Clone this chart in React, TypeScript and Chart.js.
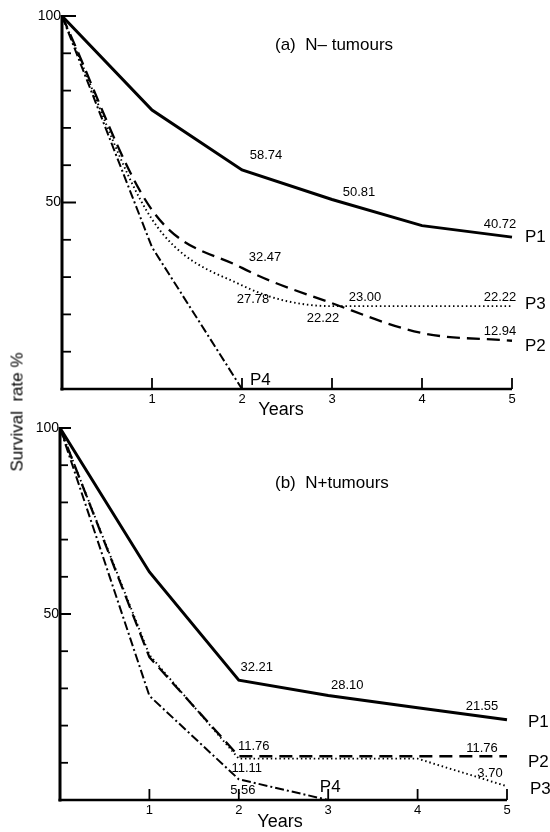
import React, { useEffect, useRef } from "react";
import { Chart, registerables } from "chart.js";

Chart.register(...registerables);

// ---------- data ----------
const YEARS = [0, 1, 2, 3, 4, 5];
const X_TICKS = [1, 2, 3, 4, 5];
const X_TICK_LABELS = ["1", "2", "3", "4", "5"];
const Y_MINOR_TICKS = [10, 20, 30, 40, 60, 70, 80, 90];
const Y_MAJOR_TICKS = [50, 100];
const Y_TICK_LABELS = ["50", "100"];
const SERIES_NAMES = ["P1", "P2", "P3", "P4"];

// (a) N- tumours
const A_P1 = [100, 74.8, 58.74, 50.81, 43.8, 40.72];
const A_P2 = [100, 48, 32.47, 23.0, 15.0, 12.94];
const A_P3 = [100, 45.5, 27.78, 22.22, 22.22, 22.22];
const A_P4 = [100, 38, 0];

// (b) N+ tumours
const B_P1 = [100, 61.3, 32.21, 28.1, 24.8, 21.55];
const B_P2 = [100, 38.4, 11.76, 11.76, 11.76, 11.76];
const B_P3 = [100, 39, 11.11, 11.11, 11.11, 3.7];
const B_P4 = [100, 28, 5.56, 0];

// ---------- styles ----------
const FONT = "'Liberation Sans', Arial, Helvetica, sans-serif";
const SERIES_STYLES = [
  { width: 3, dash: [] as number[] },
  { width: 2.3, dash: [13, 7] },
  { width: 1.9, dash: [1.5, 2.8] },
  { width: 2, dash: [9, 3, 2, 3] },
];

type ValueLabel = { s: number; i: number; dx: number; dy: number };
type NameLabel = { dx: number; dy: number; align: CanvasTextAlign };

interface PanelCfg {
  title: string;
  titleX: number;
  titleY: number;
  padding: { left: number; right: number; top: number; bottom: number };
  series: number[][];
  monotone: boolean[];
  valueLabels: ValueLabel[];
  nameLabels: NameLabel[];
  yearsX: number;
  yearsY: number;
  majorLen: number;
  minorLen: number;
}

const PANEL_A: PanelCfg = {
  title: "(a)  N\u2013 tumours",
  titleX: 275,
  titleY: 45,
  padding: { left: 62, right: 38, top: 16, bottom: 27 },
  series: [A_P1, A_P2, A_P3, A_P4],
  monotone: [false, true, true, false],
  valueLabels: [
    { s: 0, i: 2, dx: 24, dy: -14 },
    { s: 0, i: 3, dx: 27, dy: -7 },
    { s: 0, i: 5, dx: -12, dy: -13 },
    { s: 1, i: 2, dx: 23, dy: -10 },
    { s: 2, i: 2, dx: 11, dy: 14 },
    { s: 1, i: 3, dx: 33, dy: -6 },
    { s: 2, i: 3, dx: -9, dy: 12 },
    { s: 2, i: 5, dx: -12, dy: -9 },
    { s: 1, i: 5, dx: -12, dy: -9 },
  ],
  nameLabels: [
    { dx: 13, dy: 0, align: "left" },
    { dx: 13, dy: 6, align: "left" },
    { dx: 13, dy: -2, align: "left" },
    { dx: 8, dy: -9, align: "left" },
  ],
  yearsX: 281,
  yearsY: 410,
  majorLen: 14,
  minorLen: 9,
};

const PANEL_B: PanelCfg = {
  title: "(b)  N+tumours",
  titleX: 275,
  titleY: 67,
  padding: { left: 60, right: 43, top: 12, bottom: 32 },
  series: [B_P1, B_P2, B_P3, B_P4],
  monotone: [false, false, false, false],
  valueLabels: [
    { s: 0, i: 2, dx: 18, dy: -13 },
    { s: 0, i: 3, dx: 19, dy: -10 },
    { s: 0, i: 5, dx: -25, dy: -13 },
    { s: 1, i: 2, dx: 15, dy: -10 },
    { s: 2, i: 2, dx: 8, dy: 10 },
    { s: 3, i: 2, dx: 4, dy: 11 },
    { s: 1, i: 5, dx: -25, dy: -8 },
    { s: 2, i: 5, dx: -17, dy: -13 },
  ],
  nameLabels: [
    { dx: 21, dy: 2, align: "left" },
    { dx: 21, dy: 6, align: "left" },
    { dx: 23, dy: 3, align: "left" },
    { dx: 2, dy: -13, align: "center" },
  ],
  yearsX: 280,
  yearsY: 406,
  majorLen: 11,
  minorLen: 8,
};

function Panel({ cfg, top }: { cfg: PanelCfg; top: number }) {
  const ref = useRef<HTMLCanvasElement | null>(null);

  useEffect(() => {
    if (!ref.current) return;
    const decor = {
      id: "decor",
      afterDatasetsDraw(chart: any) {
        const ctx: CanvasRenderingContext2D = chart.ctx;
        const xs = chart.scales.x;
        const ys = chart.scales.y;
        const x0 = xs.getPixelForValue(0);
        const x5 = xs.getPixelForValue(5);
        const y0 = ys.getPixelForValue(0);
        const y100 = ys.getPixelForValue(100);
        ctx.save();
        ctx.strokeStyle = "#000";
        ctx.fillStyle = "#000";
        ctx.setLineDash([]);
        // y axis
        ctx.lineWidth = 3;
        ctx.beginPath();
        ctx.moveTo(x0, y100 - 1);
        ctx.lineTo(x0, y0 + 1.5);
        ctx.stroke();
        // x axis
        ctx.lineWidth = 2.5;
        ctx.beginPath();
        ctx.moveTo(x0 - 1.5, y0);
        ctx.lineTo(x5, y0);
        ctx.stroke();
        // y ticks
        ctx.lineWidth = 1.8;
        Y_MINOR_TICKS.forEach((v) => {
          const y = ys.getPixelForValue(v);
          ctx.beginPath();
          ctx.moveTo(x0, y);
          ctx.lineTo(x0 + cfg.minorLen, y);
          ctx.stroke();
        });
        ctx.lineWidth = 2;
        Y_MAJOR_TICKS.forEach((v) => {
          const y = ys.getPixelForValue(v);
          ctx.beginPath();
          ctx.moveTo(x0, y);
          ctx.lineTo(x0 + cfg.majorLen, y);
          ctx.stroke();
        });
        // x ticks
        ctx.lineWidth = 1.8;
        X_TICKS.forEach((v) => {
          const x = xs.getPixelForValue(v);
          ctx.beginPath();
          ctx.moveTo(x, y0);
          ctx.lineTo(x, y0 - 11);
          ctx.stroke();
        });
        // y labels
        ctx.font = `14px ${FONT}`;
        ctx.textAlign = "right";
        ctx.textBaseline = "middle";
        Y_MAJOR_TICKS.forEach((v, k) => {
          ctx.fillText(Y_TICK_LABELS[k], x0 - 1, ys.getPixelForValue(v));
        });
        // x labels
        ctx.font = `13px ${FONT}`;
        ctx.textAlign = "center";
        ctx.textBaseline = "top";
        X_TICKS.forEach((v, k) => {
          ctx.fillText(X_TICK_LABELS[k], xs.getPixelForValue(v), y0 + 4);
        });
        // value labels
        ctx.textBaseline = "middle";
        ctx.textAlign = "center";
        ctx.font = `13px ${FONT}`;
        cfg.valueLabels.forEach((l) => {
          const val = cfg.series[l.s][l.i];
          const x = xs.getPixelForValue(YEARS[l.i]);
          const y = ys.getPixelForValue(val);
          ctx.fillText(val.toFixed(2), x + l.dx, y + l.dy);
        });
        // series name labels
        ctx.font = `17px ${FONT}`;
        cfg.series.forEach((arr, s) => {
          const nl = cfg.nameLabels[s];
          const last = arr.length - 1;
          const x = xs.getPixelForValue(YEARS[last]);
          const y = ys.getPixelForValue(arr[last]);
          ctx.textAlign = nl.align;
          ctx.fillText(SERIES_NAMES[s], x + nl.dx, y + nl.dy);
        });
        // title
        ctx.textAlign = "left";
        ctx.font = `17px ${FONT}`;
        ctx.fillText(cfg.title, cfg.titleX, cfg.titleY);
        // Years
        ctx.textAlign = "center";
        ctx.font = `18px ${FONT}`;
        ctx.fillText("Years", cfg.yearsX, cfg.yearsY);
        ctx.restore();
      },
    };

    const chart = new Chart(ref.current, {
      type: "line",
      data: {
        datasets: cfg.series.map((arr, s) => ({
          label: SERIES_NAMES[s],
          data: arr.map((v, i) => ({ x: YEARS[i], y: v })),
          borderColor: "#000",
          backgroundColor: "#000",
          borderWidth: SERIES_STYLES[s].width,
          borderDash: SERIES_STYLES[s].dash,
          pointRadius: 0,
          fill: false,
          cubicInterpolationMode: cfg.monotone[s] ? "monotone" : "default",
          tension: 0,
          clip: 4,
        })),
      },
      options: {
        animation: false,
        responsive: false,
        devicePixelRatio: 1,
        layout: { padding: cfg.padding },
        plugins: {
          legend: { display: false },
          tooltip: { enabled: false },
          title: { display: false },
        },
        scales: {
          x: { type: "linear", min: 0, max: 5, display: false },
          y: { type: "linear", min: 0, max: 100, display: false },
        },
      },
      plugins: [decor],
    } as any);
    return () => chart.destroy();
  }, [cfg]);

  return (
    <canvas
      ref={ref}
      width={550}
      height={416}
      style={{ position: "absolute", left: 0, top, width: 550, height: 416 }}
    />
  );
}

export default function App() {
  return (
    <div
      style={{
        position: "absolute",
        left: 0,
        top: 0,
        width: 550,
        height: 832,
        background: "#fff",
        overflow: "hidden",
      }}
    >
      <Panel cfg={PANEL_A} top={0} />
      <Panel cfg={PANEL_B} top={416} />
      <div
        style={{
          position: "absolute",
          left: 17,
          top: 412,
          transform: "translate(-50%, -50%) rotate(-90deg)",
          fontFamily: FONT,
          fontSize: 17,
          whiteSpace: "pre",
          color: "#000",
          lineHeight: 1,
          zIndex: 2,
        }}
      >
        {"Survival  rate %"}
      </div>
    </div>
  );
}
